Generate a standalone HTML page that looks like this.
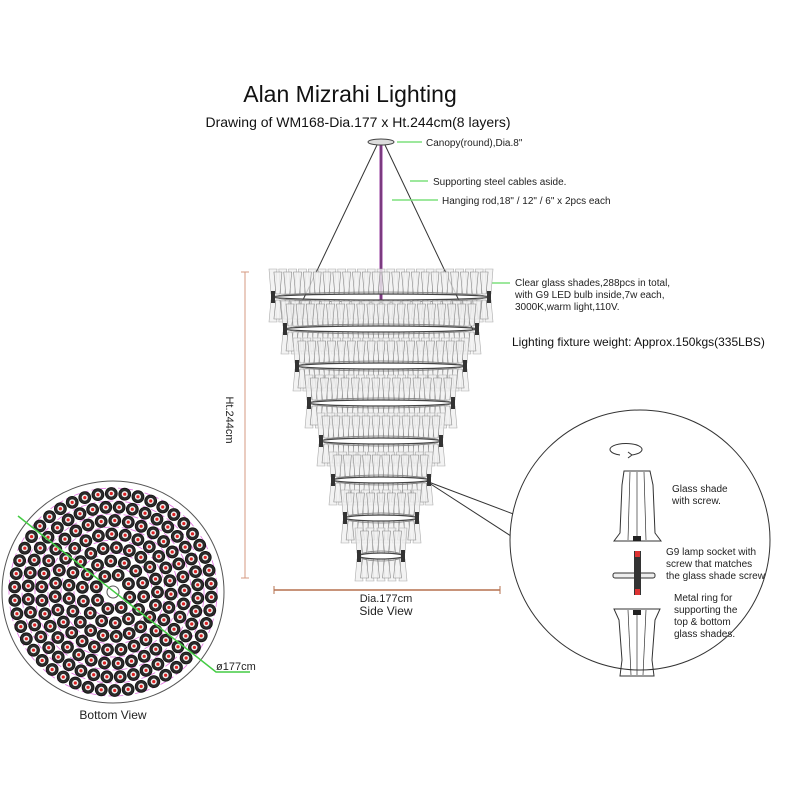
<!DOCTYPE html>
<html><head><meta charset="utf-8"><style>
html,body{margin:0;padding:0;background:#fff;}
svg{display:block;font-family:"Liberation Sans",Arial,sans-serif;}
</style></head><body>
<svg id="s" width="800" height="800" viewBox="0 0 800 800" xmlns="http://www.w3.org/2000/svg">
<rect width="800" height="800" fill="#fff"/>
<text x="350" y="102" font-size="23" text-anchor="middle" fill="#111">Alan Mizrahi Lighting</text>
<text x="358" y="127" font-size="14" text-anchor="middle" fill="#111">Drawing of WM168-Dia.177 x Ht.244cm(8 layers)</text>
<line x1="381" y1="145" x2="381" y2="300" stroke="#9a3fa0" stroke-width="3"/>
<line x1="381" y1="145" x2="381" y2="300" stroke="#333" stroke-width="0.6"/>
<line x1="377" y1="145" x2="291" y2="325" stroke="#333" stroke-width="1"/>
<line x1="385" y1="145" x2="473" y2="330" stroke="#333" stroke-width="1"/>
<ellipse cx="381" cy="142" rx="13" ry="3" fill="#ddd" stroke="#444"/>
<g stroke="#7de07d" stroke-width="1.5">
<line x1="397" y1="142" x2="422" y2="142"/>
<line x1="410" y1="181" x2="428" y2="181"/>
<line x1="392" y1="200" x2="438" y2="200"/>
<line x1="492" y1="283" x2="510" y2="283"/>
<line x1="643" y1="490" x2="658" y2="490"/>
<line x1="644" y1="563" x2="662" y2="563"/>
<line x1="646" y1="587" x2="662" y2="597"/>
</g>
<g font-size="10" fill="#222">
<text x="426" y="146">Canopy(round),Dia.8"</text>
<text x="433" y="185">Supporting steel cables aside.</text>
<text x="442" y="204">Hanging rod,18" / 12" / 6" x 2pcs each</text>
<text x="515" y="286">Clear glass shades,288pcs in total,</text>
<text x="515" y="298">with G9 LED bulb inside,7w each,</text>
<text x="515" y="310">3000K,warm light,110V.</text>
</g>
<text x="512" y="346" font-size="12" fill="#111">Lighting fixture weight: Approx.150kgs(335LBS)</text>
<g id="chand"></g>
<line x1="245" y1="272" x2="245" y2="578" stroke="#d49a80" stroke-width="1"/>
<line x1="241" y1="272" x2="249" y2="272" stroke="#d49a80"/>
<line x1="241" y1="578" x2="249" y2="578" stroke="#d49a80"/>
<text transform="translate(226,420) rotate(90)" font-size="11" text-anchor="middle" fill="#222">Ht.244cm</text>
<line x1="274" y1="590" x2="500" y2="590" stroke="#b5704f" stroke-width="1.5"/>
<line x1="274" y1="586" x2="274" y2="594" stroke="#b5704f"/>
<line x1="500" y1="586" x2="500" y2="594" stroke="#b5704f"/>
<text x="386" y="602" font-size="11" text-anchor="middle" fill="#222">Dia.177cm</text>
<text x="386" y="615" font-size="12" text-anchor="middle" fill="#222">Side View</text>
<line x1="426" y1="481" x2="516" y2="515" stroke="#333"/>
<line x1="426" y1="481" x2="514" y2="538" stroke="#333"/>
<circle cx="640" cy="540" r="130" fill="#fff" stroke="#333" stroke-width="1"/>
<path d="M620,455 a16,6 0 1 1 12,0" fill="none" stroke="#333"/>
<path d="M632,455 l-4,-3 m4,3 l-4,3" stroke="#333" fill="none"/>
<path d="M624,471 L650,471 L653,485 L655,533 L661,541 L614,541 L620,533 L622,485 Z" fill="none" stroke="#333"/>
<g stroke="#333" fill="none" stroke-width="0.7"><line x1="630" y1="472" x2="628" y2="540"/><line x1="637" y1="472" x2="637" y2="540"/><line x1="644" y1="472" x2="646" y2="540"/></g>
<rect x="633" y="536" width="8" height="5" fill="#222"/>
<rect x="613" y="573" width="42" height="5" rx="2" fill="#eee" stroke="#333"/>
<rect x="634" y="551" width="7" height="44" fill="#333"/>
<rect x="635" y="551" width="5" height="6" fill="#d33"/>
<rect x="635" y="589" width="5" height="6" fill="#d33"/>
<path d="M614,609 L660,609 L655,620 L652,660 L654,676 L620,676 L622,660 L619,620 Z" fill="none" stroke="#333"/>
<g stroke="#333" fill="none" stroke-width="0.7"><line x1="628" y1="610" x2="631" y2="675"/><line x1="637" y1="610" x2="637" y2="675"/><line x1="646" y1="610" x2="643" y2="675"/></g>
<rect x="633" y="610" width="8" height="5" fill="#222"/>
<g font-size="10" fill="#222">
<text x="672" y="492">Glass shade</text><text x="672" y="504">with screw.</text>
<text x="666" y="555">G9 lamp socket with</text><text x="666" y="567">screw that matches</text><text x="666" y="579">the glass shade screw</text>
<text x="674" y="601">Metal ring for</text><text x="674" y="613">supporting the</text><text x="674" y="625">top &amp; bottom</text><text x="674" y="637">glass shades.</text>
</g>
<circle cx="113" cy="592" r="111" fill="#fff" stroke="#555" stroke-width="1"/>
<g id="bv"></g>
<polyline points="18,516 216,672 250,672" fill="none" stroke="#4c4" stroke-width="1.5"/>
<text x="216" y="670" font-size="11" fill="#222">ø177cm</text>
<text x="113" y="719" font-size="12" text-anchor="middle" fill="#222">Bottom View</text>
</svg>
<script>
var NS="http://www.w3.org/2000/svg";
function el(p,t,a){var e=document.createElementNS(NS,t);for(var k in a)e.setAttribute(k,a[k]);p.appendChild(e);return e;}
var ch=document.getElementById("chand");
var rings=[[297,108],[329,96],[366,84],[403,72],[441,60],[480,48],[518,36],[556,22]];
rings.forEach(function(r,i){
  var y=r[0],w=r[1];
  var n=Math.max(3,Math.round(w/5));
  for(var row=0;row<2;row++){
   var off=row*0.5, dy=row?3:0;
   for(var j=0;j<=n-row;j++){
    var x=381-w+2*w*(j+off)/n;
    var st=row?"#888":"#aaa";
    el(ch,"path",{d:"M"+(x-4)+","+(y-28+dy)+" L"+(x+4)+","+(y-28+dy)+" L"+(x+2)+","+(y-3)+" L"+(x-2)+","+(y-3)+"Z",fill:"#f0f0f0","fill-opacity":0.8,stroke:st,"stroke-width":0.6});
    el(ch,"path",{d:"M"+(x-2)+","+(y+3)+" L"+(x+2)+","+(y+3)+" L"+(x+4)+","+(y+25-dy)+" L"+(x-4)+","+(y+25-dy)+"Z",fill:"#f0f0f0","fill-opacity":0.8,stroke:st,"stroke-width":0.6});
   }
  }
  el(ch,"ellipse",{cx:381,cy:y,rx:w,ry:3,fill:"none",stroke:"#444","stroke-width":1.2});
  el(ch,"ellipse",{cx:381,cy:y,rx:w,ry:5,fill:"none",stroke:"#777","stroke-width":0.7});
  el(ch,"rect",{x:381-w-2,y:y-6,width:4,height:12,fill:"#333"});
  el(ch,"rect",{x:381+w-2,y:y-6,width:4,height:12,fill:"#333"});
});
var bv=document.getElementById("bv");
for(var k=1;k<=8;k++){el(bv,"circle",{cx:113,cy:592,r:k*13,fill:"none",stroke:"#e070e0","stroke-width":0.8,"stroke-dasharray":"6 3"});}
el(bv,"circle",{cx:113,cy:592,r:6,fill:"none",stroke:"#555"});
for(var k=1;k<=7;k++){
  var R=k*13.5+4, n=Math.round(2*Math.PI*R/13.5);
  for(var j=0;j<n;j++){
    var a=j*2*Math.PI/n+k*0.3;
    var x=113+R*Math.cos(a),y=592+R*Math.sin(a);
    el(bv,"circle",{cx:x,cy:y,r:6,fill:"#2a2a2a",stroke:"#111","stroke-width":0.8});
    el(bv,"circle",{cx:x,cy:y,r:3.4,fill:"#eee",stroke:"#222","stroke-width":0.6});
    el(bv,"circle",{cx:x,cy:y,r:1.6,fill:"#d22"});
  }
}
</script>
</body></html>
